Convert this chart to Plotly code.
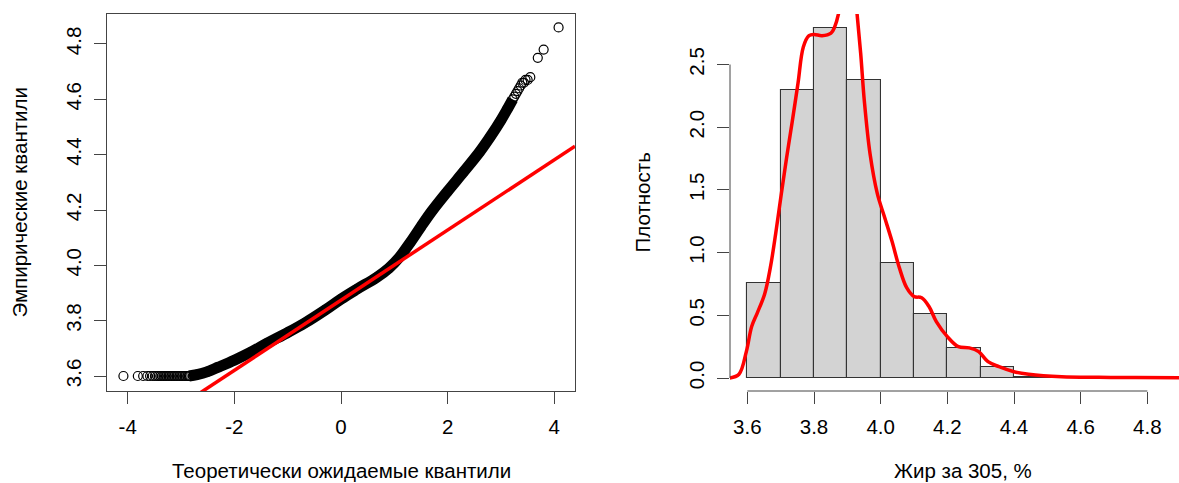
import plotly.graph_objects as go

W, H = 1179, 483
FONT = "Liberation Sans, Arial, sans-serif"
AXIS_COLOR = "#444444"

# ---- Normal QQ plot ----
# tied minimum values (3.6) at the low end
tie_theor = [-4.08, -3.81, -3.71, -3.63, -3.58, -3.53, -3.49, -3.45, -3.42, -3.39,
             -3.36, -3.33, -3.30, -3.27, -3.24, -3.21, -3.18, -3.15, -3.12, -3.09,
             -3.06, -3.03, -3.00, -2.97, -2.94, -2.91, -2.88, -2.85]
tie_emp = [3.60, 3.60, 3.60, 3.60, 3.60, 3.60, 3.60, 3.60, 3.60, 3.60,
           3.60, 3.60, 3.60, 3.60, 3.60, 3.60, 3.60, 3.60, 3.60, 3.60,
           3.60, 3.60, 3.60, 3.60, 3.60, 3.60, 3.60, 3.60]

# dense body of the sample quantiles
body_theor = [-2.85, -2.70, -2.50, -2.30, -2.00, -1.70, -1.40, -1.00, -0.674, -0.30,
              0.00, 0.30, 0.674, 0.90, 1.10, 1.30, 1.50, 1.70, 2.00, 2.30,
              2.60, 2.80, 3.00, 3.12, 3.22]
body_emp = [3.600, 3.605, 3.616, 3.632, 3.657, 3.685, 3.717, 3.757, 3.792, 3.838,
            3.878, 3.914, 3.957, 3.990, 4.030, 4.083, 4.140, 4.195, 4.268, 4.338,
            4.410, 4.465, 4.525, 4.565, 4.600]

# sparse upper tail
tail_theor = [3.25, 3.28, 3.31, 3.34, 3.37, 3.40, 3.43, 3.46, 3.50, 3.55, 3.69, 3.80, 4.08]
tail_emp = [4.610, 4.620, 4.630, 4.640, 4.650, 4.660, 4.660, 4.670, 4.670, 4.680, 4.750, 4.780, 4.860]

# reference line through the quartiles
qq_intercept = 3.874
qq_slope = 0.1268

qq_xticks = [-4, -2, 0, 2, 4]
qq_yticks = [3.6, 3.8, 4.0, 4.2, 4.4, 4.6, 4.8]

# ---- Histogram of fat content ----
bin_left = [3.6, 3.7, 3.8, 3.9, 4.0, 4.1, 4.2, 4.3, 4.4, 4.5, 4.6, 4.7, 4.8]
bin_density = [0.76, 2.30, 2.79, 2.38, 0.92, 0.51, 0.24, 0.09, 0.006, 0.002, 0.002, 0.001, 0.001]
bin_width = 0.1

# kernel density estimate
dens_x = [3.547, 3.575, 3.597, 3.613, 3.630, 3.652, 3.669, 3.685, 3.702, 3.718,
          3.735, 3.752, 3.768, 3.785, 3.800, 3.824, 3.851, 3.862, 3.877, 3.890,
          3.900, 3.910, 3.920, 3.929, 3.940, 3.951, 3.968, 3.990, 4.012, 4.034,
          4.056, 4.078, 4.100, 4.123, 4.145, 4.167, 4.200, 4.233, 4.266, 4.294,
          4.322, 4.355, 4.400, 4.444, 4.543, 4.654, 4.765, 4.895]
dens_y = [0.00, 0.03, 0.21, 0.41, 0.52, 0.67, 0.88, 1.15, 1.47, 1.76,
          2.05, 2.35, 2.64, 2.73, 2.74, 2.73, 2.75, 2.80, 2.95, 3.25,
          3.40, 3.38, 3.15, 2.91, 2.59, 2.21, 1.79, 1.47, 1.28, 1.09,
          0.88, 0.72, 0.65, 0.64, 0.57, 0.45, 0.33, 0.25, 0.24, 0.21,
          0.13, 0.09, 0.05, 0.03, 0.01, 0.005, 0.003, 0.002]

hist_xticks = [3.6, 3.8, 4.0, 4.2, 4.4, 4.6, 4.8]
hist_yticks = [0.0, 0.5, 1.0, 1.5, 2.0, 2.5]


def px_x(p):
    return p / W


def px_y(p):
    return 1 - p / H


fig = go.Figure()

circle = dict(symbol="circle-open", size=9, color="black", line=dict(width=1.2, color="black"))

fig.add_trace(go.Scatter(x=body_theor, y=body_emp, mode="lines", line_shape="spline",
                         line=dict(color="black", width=11), xaxis="x", yaxis="y",
                         hoverinfo="skip"))
fig.add_trace(go.Scatter(x=tie_theor + body_theor + tail_theor,
                         y=tie_emp + body_emp + tail_emp,
                         mode="markers", marker=circle, xaxis="x", yaxis="y"))

qq_x_range = [-4.388, 4.388]
fig.add_trace(go.Scatter(x=qq_x_range,
                         y=[qq_intercept + qq_slope * v for v in qq_x_range],
                         mode="lines", line=dict(color="#FF0000", width=3.5),
                         xaxis="x", yaxis="y"))

fig.add_trace(go.Bar(x=bin_left, y=bin_density, width=bin_width, offset=0,
                     marker=dict(color="#D3D3D3", line=dict(color="#333333", width=1.1)),
                     xaxis="x2", yaxis="y2"))
fig.add_trace(go.Scatter(x=dens_x, y=dens_y, mode="lines", line_shape="spline",
                         line=dict(color="#FF0000", width=3.5), xaxis="x2", yaxis="y2"))

FS = 20.5
tickfont = dict(family=FONT, size=FS, color="black")
common = dict(showgrid=False, zeroline=False, ticks="outside", ticklen=12,
              tickwidth=1, tickcolor=AXIS_COLOR, tickfont=tickfont)

fig.update_layout(
    width=W, height=H, margin=dict(l=0, r=0, t=0, b=0),
    paper_bgcolor="white", plot_bgcolor="white", showlegend=False, bargap=0,
    xaxis=dict(domain=[px_x(107), px_x(575)], range=qq_x_range,
               tickvals=qq_xticks, ticktext=[str(v) for v in qq_xticks],
               showline=True, mirror=True, linecolor=AXIS_COLOR, linewidth=1,
               anchor="y", ticklabelstandoff=5, **common),
    yaxis=dict(domain=[px_y(391), px_y(14)], range=[3.5458, 4.9084],
               tickvals=qq_yticks, ticktext=["%.1f" % v for v in qq_yticks],
               tickangle=-90, showline=True, mirror=True, linecolor=AXIS_COLOR,
               linewidth=1, anchor="x", ticklabelstandoff=5, **common),
    xaxis2=dict(domain=[px_x(730), 1.0], range=[3.548, 4.895],
                tickvals=hist_xticks, ticktext=["%.1f" % v for v in hist_xticks],
                showline=False, anchor="y2", ticklabelstandoff=5, **common),
    yaxis2=dict(domain=[px_y(391), px_y(14)], range=[-0.1037, 2.903],
                tickvals=hist_yticks, ticktext=["%.1f" % v for v in hist_yticks],
                tickangle=-90, showline=False, anchor="x2", ticklabelstandoff=5, **common),
)

# axis lines spanning only the tick range
fig.add_shape(type="line", xref="x2", yref="y2 domain", x0=hist_xticks[0], x1=hist_xticks[-1],
              y0=0, y1=0, line=dict(color=AXIS_COLOR, width=1))
fig.add_shape(type="line", xref="x2 domain", yref="y2", x0=0, x1=0,
              y0=hist_yticks[0], y1=hist_yticks[-1], line=dict(color=AXIS_COLOR, width=1))

titlefont = dict(family=FONT, size=FS, color="black")
annotations = [
    dict(text="Теоретически ожидаемые квантили", x=px_x(341), y=px_y(470), textangle=0),
    dict(text="Эмпирические квантили", x=px_x(19), y=px_y(202.5), textangle=-90),
    dict(text="Жир за 305, %", x=px_x(963.5), y=px_y(470), textangle=0),
    dict(text="Плотность", x=px_x(642), y=px_y(202.5), textangle=-90),
]
for a in annotations:
    fig.add_annotation(xref="paper", yref="paper", showarrow=False, font=titlefont,
                       xanchor="center", yanchor="middle", **a)

fig.write_html("out.html")
